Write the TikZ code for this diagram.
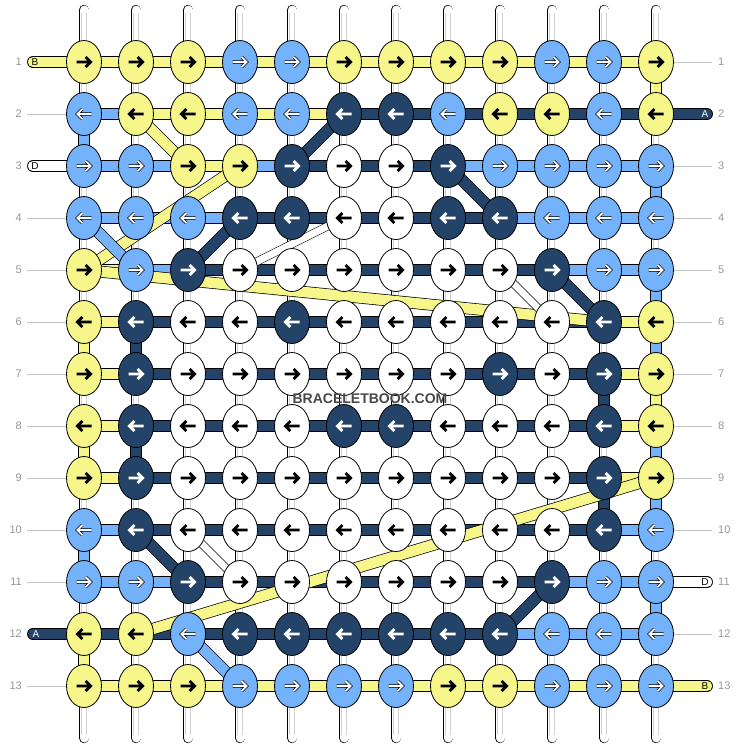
\documentclass[tikz,border=0pt]{standalone}
\usepackage{fontspec}
\setmainfont{Liberation Sans}
\usetikzlibrary{shapes.geometric}
\definecolor{knotyellow}{RGB}{246,246,138}
\definecolor{knotblue}{RGB}{117,178,252}
\definecolor{knotnavy}{RGB}{36,67,104}
\definecolor{labelgray}{RGB}{150,150,150}
\definecolor{linegray}{RGB}{195,195,195}
\definecolor{warpgray}{RGB}{210,210,210}
\pgfdeclarelayer{strands}
\pgfsetlayers{strands,main}

\begin{document}
\begin{tikzpicture}[
    x=1pt, y=-1pt,
    knot/.style={
        ellipse,
        draw=black,
        line width=0.8pt,
        minimum width=35pt,
        minimum height=43pt,
        inner sep=0pt
    },
    knotY/.style={knot, fill=knotyellow},
    knotL/.style={knot, fill=knotblue},
    knotD/.style={knot, fill=knotnavy},
    knotW/.style={knot, fill=white},
    arrY/.style={draw=black, line width=2.7pt},
    arrW/.style={draw=black, line width=2.7pt},
    arrD/.style={draw=white, line width=2.7pt},
    arrL/.style={draw=black, line width=0.6pt, double=white, double distance=1.9pt},
    thread/.style={draw=black, line width=0.7pt, double distance=10.5pt},
    threadY/.style={thread, double=knotyellow},
    threadL/.style={thread, double=knotblue},
    threadD/.style={thread, double=knotnavy},
    threadW/.style={draw=black, line width=0.6pt, double=white, double distance=7pt},
    warp/.style={draw=black, line width=0.7pt, double=white, double distance=9pt, line cap=round},
    rownum/.style={text=labelgray, font=\fontsize{11}{11}\selectfont, inner sep=0pt},
    rowline/.style={draw=linegray, line width=0.8pt},
    stubtext/.style={font=\fontsize{10}{10}\selectfont, inner sep=0pt}
]
    \useasboundingbox (0,0) rectangle (740,748);

    % Knots, row by row (colour list, arrow direction)
    \foreach \rw/\dir/\row in {
        1/1/{Y,Y,Y,L,L,Y,Y,Y,Y,L,L,Y},
        2/-1/{L,Y,Y,L,L,D,D,L,Y,Y,L,Y},
        3/1/{L,L,Y,Y,D,W,W,D,L,L,L,L},
        4/-1/{L,L,L,D,D,W,W,D,D,L,L,L},
        5/1/{Y,L,D,W,W,W,W,W,W,D,L,L},
        6/-1/{Y,D,W,W,D,W,W,W,W,W,D,Y},
        7/1/{Y,D,W,W,W,W,W,W,D,W,D,Y},
        8/-1/{Y,D,W,W,W,D,D,W,W,W,D,Y},
        9/1/{Y,D,W,W,W,W,W,W,W,W,D,Y},
        10/-1/{L,D,W,W,W,W,W,W,W,W,D,L},
        11/1/{L,L,D,W,W,W,W,W,W,D,L,L},
        12/-1/{Y,Y,L,D,D,D,D,D,D,L,L,L},
        13/1/{Y,Y,Y,L,L,L,L,Y,Y,L,L,L}} {
        \foreach \clr [count=\cl] in \row {
            \node[knot\clr] (k-\rw-\cl) at ({32+52*\cl},{10+52*\rw}) {};
            \begin{scope}[shift={(k-\rw-\cl.center)}, xscale=\dir]
                \draw[arr\clr] (-7.5,0) -- (6,0) (1.6,-5) -- (6.6,0) -- (1.6,5);
            \end{scope}
        }
    }

    % Row numbers
    \foreach \rw in {1,...,13} {
        \node[rownum, anchor=east] (ll-\rw) at (22,{10+52*\rw}) {\rw};
        \node[rownum, anchor=west] (lr-\rw) at (718,{10+52*\rw}) {\rw};
    }

    % Loose ends
    \coordinate (sB) at (33,62);
    \coordinate (sD) at (33,166);
    \coordinate (sA) at (33,634);
    \coordinate (eA) at (707,114);
    \coordinate (eD) at (707,582);
    \coordinate (eB) at (707,686);
    \node[stubtext] (tB) at (35,62) {B};
    \node[stubtext] (tD) at (35,166) {D};
    \node[stubtext, text=white] (tA) at (36,634) {A};
    \node[stubtext, text=white] (uA) at (705,114) {A};
    \node[stubtext] (uD) at (705,582) {D};
    \node[stubtext] (uB) at (705,686) {B};

    \node[font=\bfseries\fontsize{14}{14}\selectfont, text=black!72] (mark) at (370,399) {BRACELETBOOK.COM};

    \begin{pgfonlayer}{strands}
        % base strings
        \foreach \cl in {1,...,12} {
            \coordinate (top-\cl) at ({32+52*\cl},10);
            \coordinate (bot-\cl) at ({32+52*\cl},738);
            \draw[warp] (top-\cl) -- (bot-\cl);
            \draw[warpgray, line width=0.5pt] ([xshift=-2.3pt,yshift=-3pt]top-\cl) -- ([xshift=-2.3pt,yshift=3pt]bot-\cl);
            \draw[warpgray, line width=0.5pt] ([xshift=2.3pt,yshift=-3pt]top-\cl) -- ([xshift=2.3pt,yshift=3pt]bot-\cl);
        }

        % row links
        \foreach \rw/\row in {
            1/{Y,Y,Y,Y,Y,Y,Y,Y,Y,Y,Y},
            2/{L,Y,Y,Y,Y,D,D,D,D,D,D},
            3/{L,L,Y,L,D,D,D,L,L,L,L},
            4/{L,L,L,D,D,D,D,D,L,L,L},
            5/{Y,L,D,D,D,D,D,D,D,L,L},
            6/{Y,D,D,D,D,D,D,D,D,D,Y},
            7/{Y,D,D,D,D,D,D,D,D,D,Y},
            8/{Y,D,D,D,D,D,D,D,D,D,Y},
            9/{Y,D,D,D,D,D,D,D,D,D,Y},
            10/{L,D,D,D,D,D,D,D,D,D,L},
            11/{L,L,D,D,D,D,D,D,D,L,L},
            12/{D,D,D,D,D,D,D,D,L,L,L},
            13/{Y,Y,Y,Y,Y,Y,Y,Y,Y,Y,Y}} {
            \foreach \clr [count=\cl] in \row {
                \pgfmathtruncatemacro\nx{\cl+1}
                \draw[thread\clr] (k-\rw-\cl.center) -- (k-\rw-\nx.center);
            }
        }

        % edge turns
        \foreach \cl/\rw/\clr in {12/1/Y, 1/2/L, 12/3/L, 12/5/L, 12/6/L, 1/6/Y, 2/6/D,
            11/7/D, 12/7/Y, 1/8/Y, 2/8/D, 12/8/L, 11/9/D, 12/9/L, 1/10/L, 12/11/L, 1/12/Y} {
            \pgfmathtruncatemacro\nx{\rw+1}
            \draw[thread\clr] (k-\rw-\cl.center) -- (k-\nx-\cl.center);
        }

        % carried strings
        \foreach \clr/\a/\b in {Y/2-2/3-3, Y/3-4/5-1, Y/5-1/6-11, Y/9-12/12-2,
            D/2-6/3-5, D/3-8/4-9, D/4-4/5-3, D/5-10/6-11, D/10-2/11-3, D/11-10/12-9,
            L/4-1/5-2, L/12-3/13-4, W/4-6/5-4, W/5-9/6-10, W/10-3/11-4} {
            \draw[thread\clr] (k-\a.center) -- (k-\b.center);
        }

        % loose ends
        \draw[threadY, line cap=round] (sB) -- (k-1-1.center);
        \draw[threadW, double distance=10.5pt, line width=0.7pt, line cap=round] (sD) -- (k-3-1.center);
        \draw[threadD, line cap=round] (sA) -- (k-12-1.center);
        \draw[threadD, line cap=round] (k-2-12.center) -- (eA);
        \draw[threadW, double distance=10.5pt, line width=0.7pt, line cap=round] (k-11-12.center) -- (eD);
        \draw[threadY, line cap=round] (k-13-12.center) -- (eB);

        % guide lines to the row numbers
        \foreach \rw in {2,4,5,6,7,8,9,10,11,13}
            \draw[rowline, shorten <=5pt] (ll-\rw.east) -- (k-\rw-1.west);
        \foreach \rw in {1,3,4,5,6,7,8,9,10,12}
            \draw[rowline, shorten >=6pt] (k-\rw-12.east) -- (lr-\rw.west);
    \end{pgfonlayer}
\end{tikzpicture}
\end{document}
